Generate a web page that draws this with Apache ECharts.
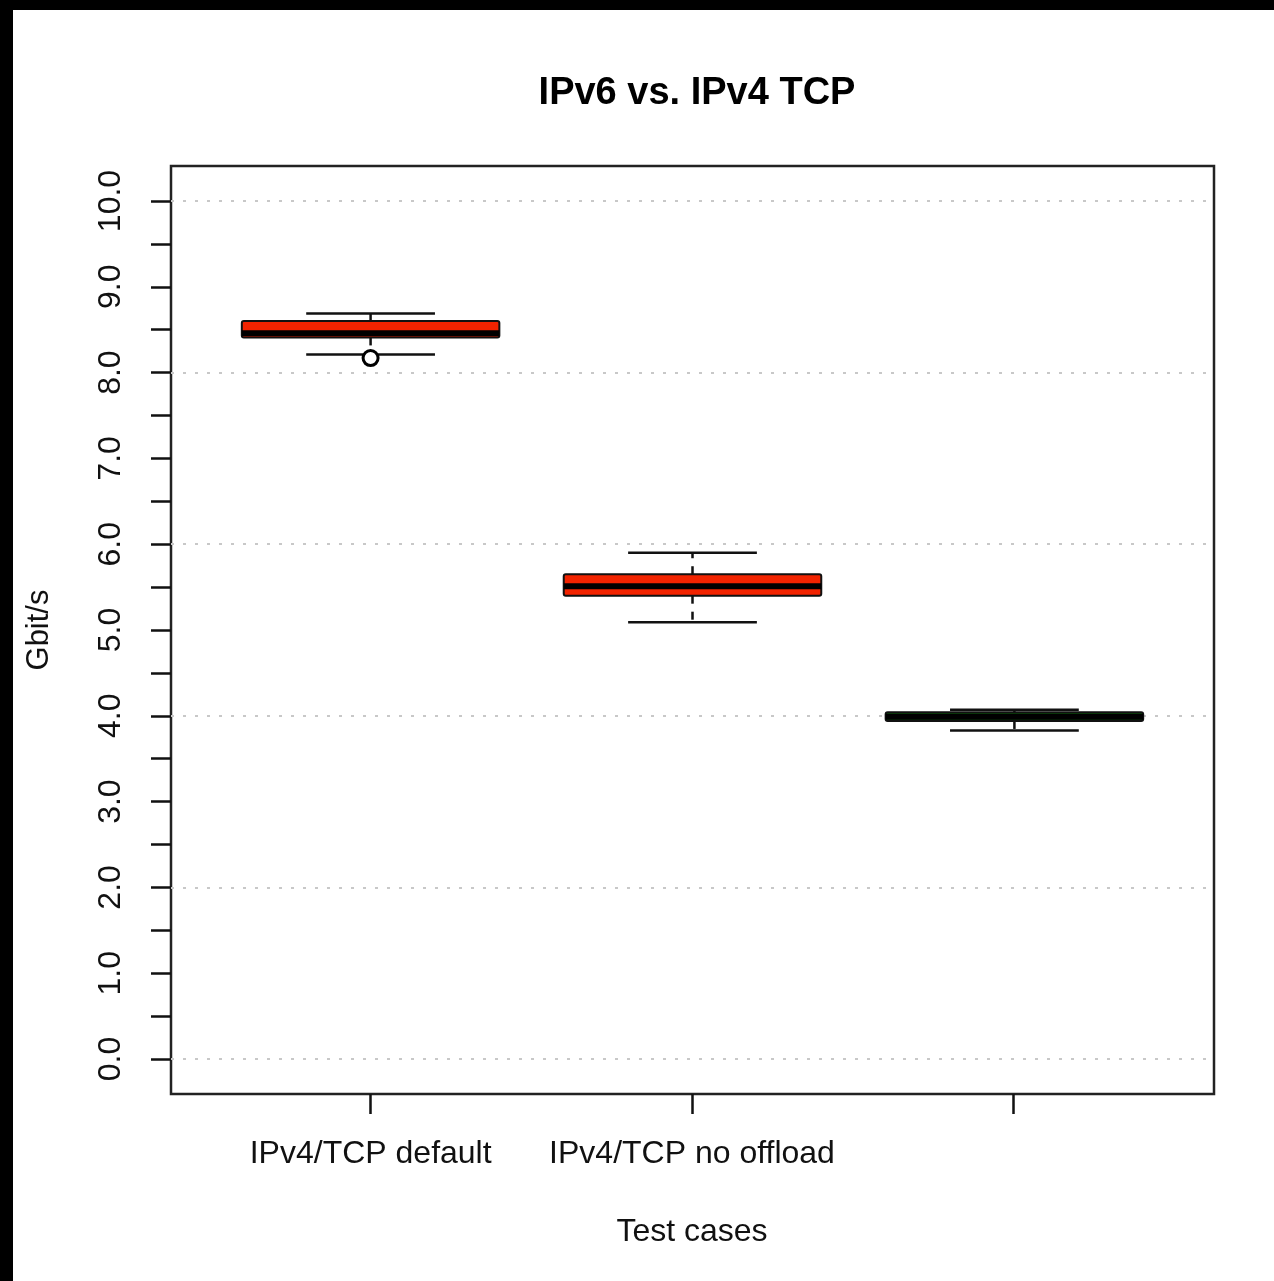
<!DOCTYPE html>
<html>
<head>
<meta charset="utf-8">
<title>IPv6 vs. IPv4 TCP</title>
<script src="https://cdn.jsdelivr.net/npm/echarts@6/dist/echarts.min.js"></script>
<style>
  html, body { margin: 0; padding: 0; background: #fff; }
  #chart { position: absolute; left: 0; top: 0; width: 1274px; height: 1281px; }
  .band { position: absolute; background: #000; z-index: 5; }
</style>
</head>
<body>
<div id="chart"></div>
<div class="band" style="left:0;top:0;width:1274px;height:10px;"></div>
<div class="band" style="left:0;top:0;width:13px;height:1281px;"></div>
<script>
// Test cases and their throughput summaries (Gbit/s)
const categories = ['IPv4/TCP default', 'IPv4/TCP no offload', 'IPv6/TCP default'];
const tickLabels = ['IPv4/TCP default', 'IPv4/TCP no offload', ''];
const whiskerLow  = [8.21, 5.09, 3.83];
const q1          = [8.41, 5.40, 3.94];
const median      = [8.46, 5.51, 3.99];
const q3          = [8.60, 5.65, 4.04];
const whiskerHigh = [8.69, 5.90, 4.07];
const outliers    = [[1, 8.17]];
const boxFill     = ['#f22300', '#f22300', '#0d5a0d'];

const boxData = categories.map((c, i) => [i + 1, whiskerLow[i], q1[i], median[i], q3[i], whiskerHigh[i], i]);

const FONT = '"Liberation Sans", Arial, Helvetica, sans-serif';
const INK = '#111';

function renderBox(params, api) {
  const x = api.value(0);
  const lo = api.value(1), b1 = api.value(2), med = api.value(3), b3 = api.value(4), hi = api.value(5);
  const idx = api.value(6);
  const half = 0.4, cap = 0.2;
  const pt = (dx, v) => api.coord([x + dx, v]);
  const line = (a, b, extra) => ({
    type: 'line',
    shape: { x1: a[0], y1: a[1], x2: b[0], y2: b[1] },
    style: Object.assign({ stroke: INK, lineWidth: 2.5 }, extra || {})
  });
  const tl = pt(-half, b3), br = pt(half, b1);
  return {
    type: 'group',
    children: [
      line(pt(0, b3), pt(0, hi), { lineDash: [8, 8] }),
      line(pt(0, b1), pt(0, lo), { lineDash: [8, 8] }),
      line(pt(-cap, hi), pt(cap, hi)),
      line(pt(-cap, lo), pt(cap, lo)),
      {
        type: 'rect',
        shape: { x: tl[0], y: tl[1], width: br[0] - tl[0], height: br[1] - tl[1], r: 2 },
        style: { fill: boxFill[idx], stroke: INK, lineWidth: 2 }
      },
      line(pt(-half, med), pt(half, med), { lineWidth: 6, stroke: '#000' })
    ]
  };
}

const chart = echarts.init(document.getElementById('chart'), null, { renderer: 'canvas' });
chart.setOption({
  backgroundColor: '#fff',
  animation: false,
  title: {
    text: 'IPv6 vs. IPv4 TCP',
    left: 692, top: 70, textAlign: 'center',
    textStyle: { fontFamily: FONT, fontSize: 38, fontWeight: 'bold', color: '#000' }
  },
  grid: [
    // plot frame
    { left: 171, right: 60, top: 166, bottom: 187, show: true, borderColor: '#222', borderWidth: 2.5, backgroundColor: 'transparent' },
    // value region (0 .. 10)
    { left: 171, right: 60, top: 201, bottom: 222 },
    // category labels
    { left: 210, right: 100, top: 166, bottom: 187 }
  ],
  xAxis: [
    { gridIndex: 1, type: 'value', min: 0.38, max: 3.62, show: false },
    {
      gridIndex: 2, type: 'category', data: tickLabels,
      axisLine: { show: false },
      axisTick: { show: true, interval: 0, alignWithLabel: true, length: 20, lineStyle: { color: INK, width: 2.5 } },
      axisLabel: { interval: 0, fontFamily: FONT, fontSize: 32, color: '#111', margin: 44 },
      name: 'Test cases', nameLocation: 'middle', nameGap: 122,
      nameTextStyle: { fontFamily: FONT, fontSize: 32, color: '#111' }
    },
    { gridIndex: 0, type: 'value', show: false }
  ],
  yAxis: [
    {
      gridIndex: 1, type: 'value', min: 0, max: 10, interval: 0.5,
      axisLine: { show: false },
      axisTick: { show: true, length: 20, lineStyle: { color: INK, width: 2.5 } },
      axisLabel: {
        fontFamily: FONT, fontSize: 32, color: '#111', rotate: 90, margin: 44,
        formatter: v => (Math.abs(v - Math.round(v)) < 1e-9 ? v.toFixed(1) : '')
      },
      splitLine: { show: false },
      name: 'Gbit/s', nameLocation: 'middle', nameGap: 116, nameRotate: 90,
      nameTextStyle: { fontFamily: FONT, fontSize: 31, color: '#111' }
    },
    {
      gridIndex: 1, type: 'value', min: 0, max: 10, interval: 2,
      axisLine: { show: false }, axisTick: { show: false }, axisLabel: { show: false },
      splitLine: { show: true, lineStyle: { color: '#c8c8c8', width: 2, type: [3, 9] } }
    },
    { gridIndex: 2, type: 'value', show: false },
    { gridIndex: 0, type: 'value', show: false }
  ],
  series: [
    {
      type: 'custom', name: 'Throughput', xAxisIndex: 0, yAxisIndex: 0,
      renderItem: renderBox, data: boxData, clip: false,
      encode: { x: 0, y: [1, 2, 3, 4, 5] }
    },
    {
      type: 'scatter', name: 'Outliers', xAxisIndex: 0, yAxisIndex: 0,
      data: outliers, symbol: 'circle', symbolSize: 15, z: 5,
      itemStyle: { color: '#fff', borderColor: '#000', borderWidth: 3, opacity: 1 }
    }
  ]
});
</script>
</body>
</html>
